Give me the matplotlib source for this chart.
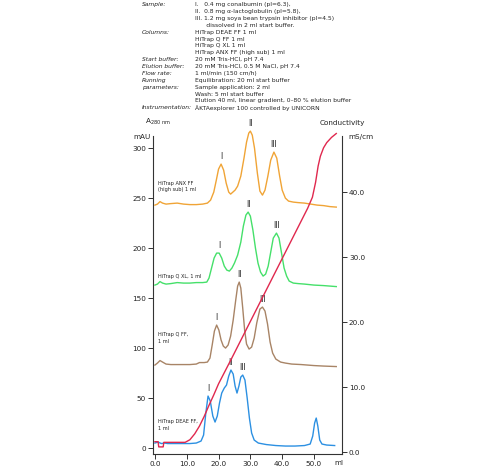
import matplotlib.pyplot as plt

# ANX FF (high sub), top trace
ml_anx = [0, 0.8, 1.6, 2.4, 3.5, 5, 7, 9, 11, 13, 15, 16.5, 17.5, 18.5, 19.3, 20, 20.8, 21.6, 22.4,
          23.2, 23.8, 24.5, 25.2, 26, 27, 28, 28.8, 29.5, 30, 30.6, 31.3, 32.2, 33, 33.8, 34.6, 35.5,
          36.4, 37.4, 38.3, 39.2, 40, 41, 42, 43.5, 45, 47, 49, 51, 53, 55, 57]
mau_anx = [243, 244, 246.5, 245, 244, 244.5, 245, 244, 243.5, 243.5, 244, 245, 248, 256, 268, 279, 284,
           278, 265, 256, 254, 256, 258, 262, 272, 290, 306, 315, 317, 313, 300, 275, 257, 253, 258, 272,
           288, 296, 290, 272, 258, 250, 247, 246, 245.5, 245, 244, 243, 242.5, 241.5, 241]

# Q XL
ml_qxl = [0, 0.8, 1.6, 2.4, 3.5, 5, 7, 9, 11, 13, 15, 16.3, 17, 17.8, 18.6, 19.4, 20.2, 21, 21.8, 22.6,
          23.4, 24.2, 25, 26, 27, 27.8, 28.6, 29.3, 30, 30.8, 31.6, 32.4, 33.2, 34, 34.8, 35.6, 36.4,
          37.2, 38.2, 39, 39.8, 40.6, 41.4, 42.2, 43.5, 45, 47, 50, 53, 57]
mau_qxl = [163, 164, 166.5, 165, 164, 164.5, 165.5, 165, 165, 165.5, 165.5, 166, 170, 180, 190, 195, 195,
           190, 182, 178, 177, 180, 185, 193, 206, 222, 233, 236, 232, 218, 200, 185, 176, 172, 174, 182,
           196, 210, 215, 210, 195, 180, 172, 167, 165, 164.5, 164, 163, 162.5, 161.5]

# Q FF
ml_qff = [0, 0.8, 1.6, 2.4, 3.5, 5, 7, 9, 11, 13, 14, 15.5, 16.5, 17.3, 18, 18.7, 19.4, 20.1, 20.8, 21.5,
          22.2, 23, 23.8, 24.6, 25.4, 26, 26.5, 27, 27.6, 28.2, 28.8, 29.6, 30.4, 31.2, 32, 33, 33.8,
          34.6, 35.4, 36.2, 37, 38, 39.5, 41, 43, 46, 50, 53, 57]
mau_qff = [83, 85, 87.5, 86, 84, 83.5, 83.5, 83.5, 83.5, 84, 85.5, 85.5, 86, 90, 103, 117, 123, 118, 108,
           102, 100, 103, 112, 128, 148, 162, 166, 160, 140, 118, 104, 99, 101, 110, 125, 139, 141, 137,
           124, 106, 95, 89, 86, 85, 84, 83.5, 82.5, 82, 81.5]

# DEAE FF, bottom trace
ml_deae = [0, 1, 2, 3, 4, 5, 7, 9, 11, 13, 14.5, 15.3, 16, 16.7, 17.4, 18.2, 18.9, 19.6, 20.3, 21, 21.8,
           22.5, 23.2, 23.9, 24.6, 25.2, 25.8, 26.4, 27, 27.6, 28.3, 29, 29.7, 30.4, 31.2, 32.5, 35, 38,
           41, 44, 47, 48.8, 49.6, 50.2, 50.7, 51.2, 51.8, 52.5, 54, 56.5]
mau_deae = [5, 6, 4.5, 5, 4.5, 4.5, 4.5, 4.5, 4.5, 5, 7, 13, 35, 52, 47, 32, 26, 32, 45, 55, 60,
            63, 72, 78, 74, 62, 55, 62, 71, 73, 68, 50, 30, 15, 8, 5, 3.5, 2.5,
            2, 2, 2.5, 4, 12, 25, 30, 22, 8, 4, 3, 2.5]

# conductivity of the gradient (mS/cm)
ml_cond = [0, 1.0, 1.2, 2.6, 2.8, 5, 9.5, 11, 12.5, 14, 15.5, 17, 18.5, 20, 22, 24, 30, 36, 42, 48,
           49.5, 50.5, 51.3, 52, 53, 54, 55.5, 57]
cond = [1.6, 1.6, 0.8, 0.8, 1.5, 1.5, 1.5, 1.9, 2.8, 4.0, 5.5, 7.2, 8.8, 10.5, 12.4, 14.3, 20.1, 25.9,
        31.7, 37.5, 39.2, 41.5, 44, 45.5, 46.8, 47.6, 48.4, 49]

traces = [
    (ml_anx, mau_anx, '#f0a436', 'HiTrap ANX FF\n(high sub) 1 ml', 262),
    (ml_qxl, mau_qxl, '#45e06a', 'HiTrap Q XL, 1 ml', 172),
    (ml_qff, mau_qff, '#a88466', 'HiTrap Q FF,\n1 ml', 110),
    (ml_deae, mau_deae, '#2c90e2', 'HiTrap DEAE FF,\n1 ml', 23),
]
# (ml, mAU) of peaks I, II, III per trace
peaks = [
    [(20.8, 284), (30, 317), (37.4, 296)],
    [(20.2, 195), (29.3, 236), (38.2, 215)],
    [(19.4, 123), (26.5, 166), (33.8, 141)],
    [(16.7, 52), (23.9, 78), (27.6, 73)],
]
roman = ['I', 'II', 'III']

sample_lines = [
    ('Sample:', 'I.   0.4 mg conalbumin (pI=6.3),'),
    ('', 'II.  0.8 mg \u03b1-lactoglobulin (pI=5.8),'),
    ('', 'III. 1.2 mg soya bean trypsin inhibitor (pI=4.5)'),
    ('', '      dissolved in 2 ml start buffer.'),
    ('Columns:', 'HiTrap DEAE FF 1 ml'),
    ('', 'HiTrap Q FF 1 ml'),
    ('', 'HiTrap Q XL 1 ml'),
    ('', 'HiTrap ANX FF (high sub) 1 ml'),
    ('Start buffer:', '20 mM Tris-HCl, pH 7.4'),
    ('Elution buffer:', '20 mM Tris-HCl, 0.5 M NaCl, pH 7.4'),
    ('Flow rate:', '1 ml/min (150 cm/h)'),
    ('Running', 'Equilibration: 20 ml start buffer'),
    ('parameters:', 'Sample application: 2 ml'),
    ('', 'Wash: 5 ml start buffer'),
    ('', 'Elution 40 ml, linear gradient, 0\u201380 % elution buffer'),
    ('Instrumentation:', '\u00c4KTAexplorer 100 controlled by UNICORN'),
]

fig = plt.figure(figsize=(5, 4.71), dpi=100)
ax = fig.add_axes([0.306, 0.036, 0.378, 0.675])
ax2 = ax.twinx()

txt_col = '#222222'
for x, y, c, name, ly in traces:
    ax.plot(x, y, color=c, lw=1.0, clip_on=False, zorder=3)
    ax.text(1.0, ly, name, fontsize=3.6, color=txt_col, va='center', ha='left', linespacing=1.3)
for pk in peaks:
    for (px, py), r in zip(pk, roman):
        ax.text(px, py + 3, r, fontsize=5.5, color=txt_col, ha='center', va='bottom')

ax2.plot(ml_cond, cond, color='#e0284e', lw=1.0, clip_on=False, zorder=4)

ax.set_xlim(-0.6, 58.8)
ax.set_ylim(-6, 312)
ax2.set_ylim(-0.3, 48.6)

ax.set_xticks([0, 10, 20, 30, 40, 50])
ax.set_xticklabels(['0.0', '10.0', '20.0', '30.0', '40.0', '50.0'])
ax.set_yticks([0, 50, 100, 150, 200, 250, 300])
ax2.set_yticks([0, 10, 20, 30, 40])
ax2.set_yticklabels(['0.0', '10.0', '20.0', '30.0', '40.0'])

for a in (ax, ax2):
    a.tick_params(labelsize=5.2, length=3.5, width=0.7, pad=1.5, colors='#333333', labelcolor=txt_col)
    for s in a.spines.values():
        s.set_linewidth(0.8)
        s.set_color('#333333')
    a.spines['top'].set_visible(False)
ax.spines['right'].set_visible(False)
ax2.spines['left'].set_visible(False)
ax2.spines['bottom'].set_visible(False)

fig.text(0.29, 0.738, 'A$_{\\mathregular{280\\ nm}}$', fontsize=5.2, color=txt_col)
fig.text(0.266, 0.705, 'mAU', fontsize=5.2, color=txt_col)
fig.text(0.684, 0.734, 'Conductivity', fontsize=5.2, color=txt_col, ha='center')
fig.text(0.696, 0.705, 'mS/cm', fontsize=5.2, color=txt_col)
fig.text(0.668, 0.012, 'ml', fontsize=5.2, color=txt_col)

# method header above the chromatograms
y0 = 0.990
dy = 0.0146
for i, (lab, val) in enumerate(sample_lines):
    yy = y0 - i * dy
    if lab:
        fig.text(0.284, yy, lab, fontsize=4.3, style='italic', color=txt_col, va='center')
    fig.text(0.39, yy, val, fontsize=4.3, color=txt_col, va='center')

fig.savefig('out.png', dpi=100)
